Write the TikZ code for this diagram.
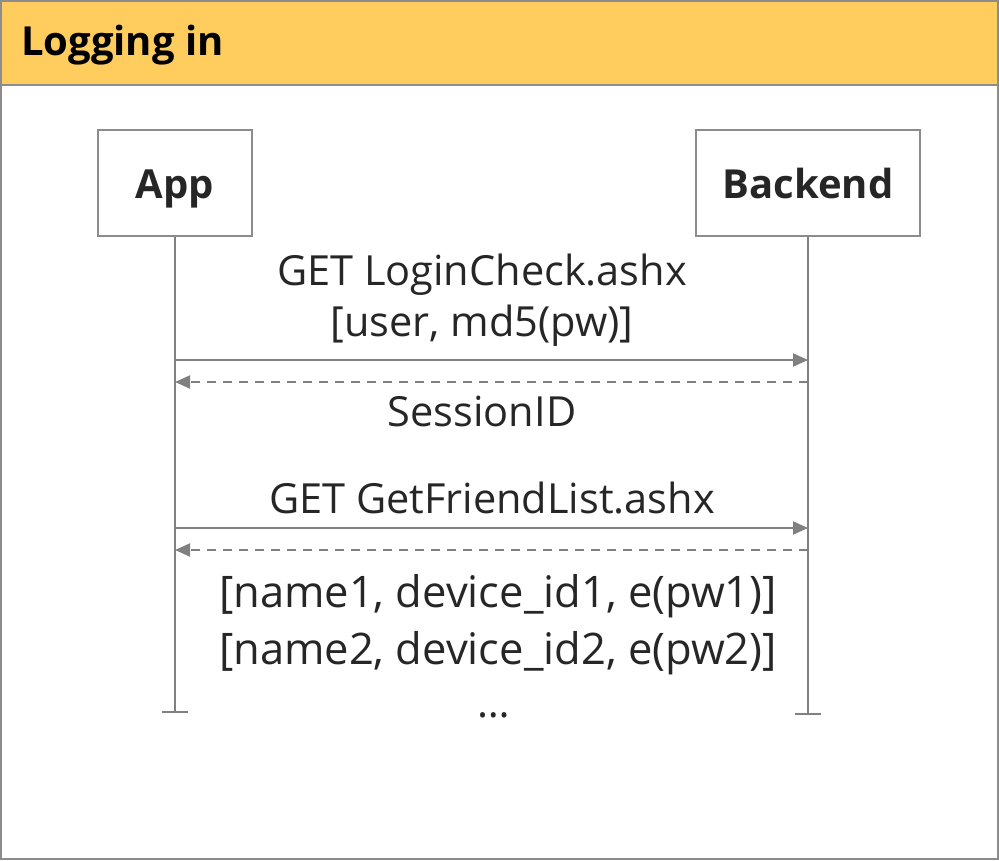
\documentclass[tikz,border=0pt]{standalone}
\usepackage{fontspec}
\setmainfont{Open Sans}
\usetikzlibrary{arrows.meta}
\definecolor{hdr}{HTML}{FFCD5E}
\definecolor{frame}{HTML}{8C8C8C}
\definecolor{ln}{HTML}{808080}
\definecolor{txt}{HTML}{262626}
\tikzset{
  lifebox/.style={draw=frame,line width=2pt,minimum height=106pt},
  lifetext/.style={font=\fontsize{40}{48}\selectfont\bfseries,text=txt,inner sep=0pt,anchor=base},
  life/.style={draw=ln,line width=2pt},
  msg/.style={draw=ln,line width=2pt,-{Triangle[length=15pt,width=13pt]}},
  ret/.style={msg,dash pattern=on 9pt off 7pt},
  lbl/.style={font=\fontsize{41.5}{58}\selectfont,text=txt,inner sep=0pt,anchor=base}
}
\begin{document}
\begin{tikzpicture}[x=1pt,y=-1pt]
\useasboundingbox (0,0) rectangle (999,860);
\fill[hdr] (1,1) rectangle (998,85);
\draw[frame,line width=2pt] (1,1) rectangle (998,859);
\draw[frame,line width=2pt] (1,85) -- (998,85);
\node[anchor=base west,font=\fontsize{40}{48}\selectfont\bfseries,inner sep=0pt] (title) at (21,55) {Logging in};
% participants
\node[lifebox,minimum width=154pt] (app) at (175,183) {};
\node[lifebox,minimum width=224pt] (be) at (808,183) {};
\node[lifetext] (appt) at (175,198) {App};
\node[lifetext] (bet) at (808,198) {Backend};
\coordinate (append) at (175,712);
\coordinate (beend) at (808,714);
\draw[life] (app.south) -- (append);
\draw[life] (be.south) -- (beend);
\draw[life] (162,712) -- (188,712);
\draw[life] (795,714) -- (821,714);
% messages
\coordinate (a1) at (175,360); \coordinate (b1) at (808,360);
\coordinate (a2) at (175,382); \coordinate (b2) at (808,382);
\coordinate (a3) at (175,528); \coordinate (b3) at (808,528);
\coordinate (a4) at (175,550); \coordinate (b4) at (808,550);
\draw[msg] (a1) -- (b1);
\draw[ret] (b2) -- (a2);
\draw[msg] (a3) -- (b3);
\draw[ret] (b4) -- (a4);
\node[lbl] (m1) at (482,285) {GET LoginCheck.ashx};
\node[lbl] (m1b) at (482,336) {[user, md5(pw)]};
\node[lbl] (m2) at (482,426) {SessionID};
\node[lbl] (m3) at (492,513) {GET GetFriendList.ashx};
\node[lbl,font=\fontsize{43.5}{58}\selectfont] (m4) at (498,607) {[name1, device\_id1, e(pw1)]};
\node[lbl,font=\fontsize{43.5}{58}\selectfont] (m4b) at (498,664) {[name2, device\_id2, e(pw2)]};
\node[lbl] (m4c) at (494,717) {…};
\end{tikzpicture}
\end{document}
